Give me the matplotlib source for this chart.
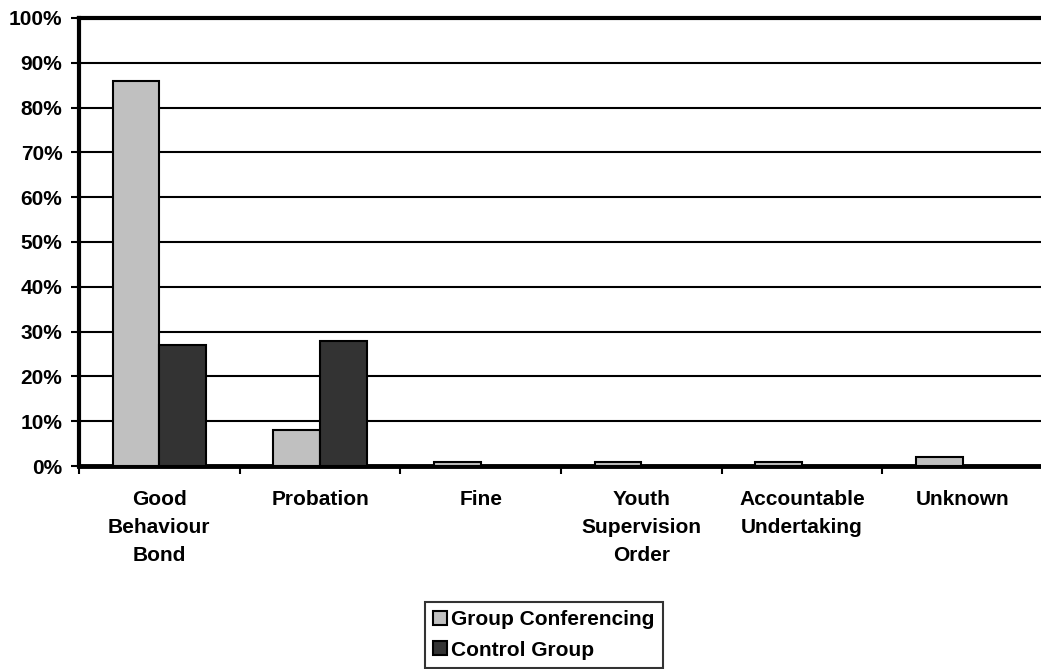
import matplotlib.pyplot as plt
import numpy as np

plt.rcParams['font.family'] = ['Liberation Sans', 'DejaVu Sans']
plt.rcParams['font.weight'] = 'bold'

categories = ['Good\nBehaviour\nBond', 'Probation', 'Fine', 'Youth\nSupervision\nOrder',
              'Accountable\nUndertaking', 'Unknown']
group_conf = [86, 8, 1, 1, 1, 2]
control = [27, 28, 0, 0, 0, 0]

fig = plt.figure(figsize=(10.41, 6.69), dpi=100)
ax = fig.add_axes([79 / 1041, 1 - 466 / 669, 1 - 79 / 1041 + 0.002, (466 - 18) / 669])

x = np.arange(len(categories))
w = 0.29
ax.bar(x - w / 2, group_conf, w, color='#c0c0c0', edgecolor='black', linewidth=1.5,
       label='Group Conferencing', zorder=3)
ax.bar(x + w / 2, control, w, color='#333333', edgecolor='black', linewidth=1.5,
       label='Control Group', zorder=3)

ax.set_xlim(-0.5, len(categories) - 0.5)
ax.set_ylim(0, 100)
ax.set_yticks(range(0, 101, 10))
ax.set_yticklabels([f'{v}%' for v in range(0, 101, 10)], fontsize=15, fontweight='bold')
ax.yaxis.grid(True, color='black', linewidth=1.5, zorder=0)
ax.set_axisbelow(True)

ax.set_xticks(np.arange(-0.5, len(categories), 1))
ax.set_xticklabels([])
ax.set_xticks(x, minor=True)
ax.set_xticklabels(categories, minor=True, fontsize=15, fontweight='bold', linespacing=1.6)
ax.tick_params(axis='x', which='minor', length=0, pad=17)
ax.tick_params(axis='x', which='major', length=6, width=1.5, direction='out')
ax.tick_params(axis='y', length=6, width=1.5, direction='out', pad=6)

for s in ['left', 'top', 'right']:
    ax.spines[s].set_linewidth(3)
ax.spines['bottom'].set_linewidth(3.5)

leg = ax.legend(loc='center', bbox_to_anchor=(544 / 1041, 1 - 635 / 669),
                bbox_transform=fig.transFigure, fontsize=15, frameon=True, fancybox=False,
                handlelength=0.65, handleheight=0.65, handletextpad=0.2,
                borderpad=0.4, labelspacing=0.55, borderaxespad=0)
leg.get_frame().set_edgecolor('black')
leg.get_frame().set_linewidth(1.5)
for t in leg.get_texts():
    t.set_fontweight('bold')

fig.savefig('out.png', dpi=100)
